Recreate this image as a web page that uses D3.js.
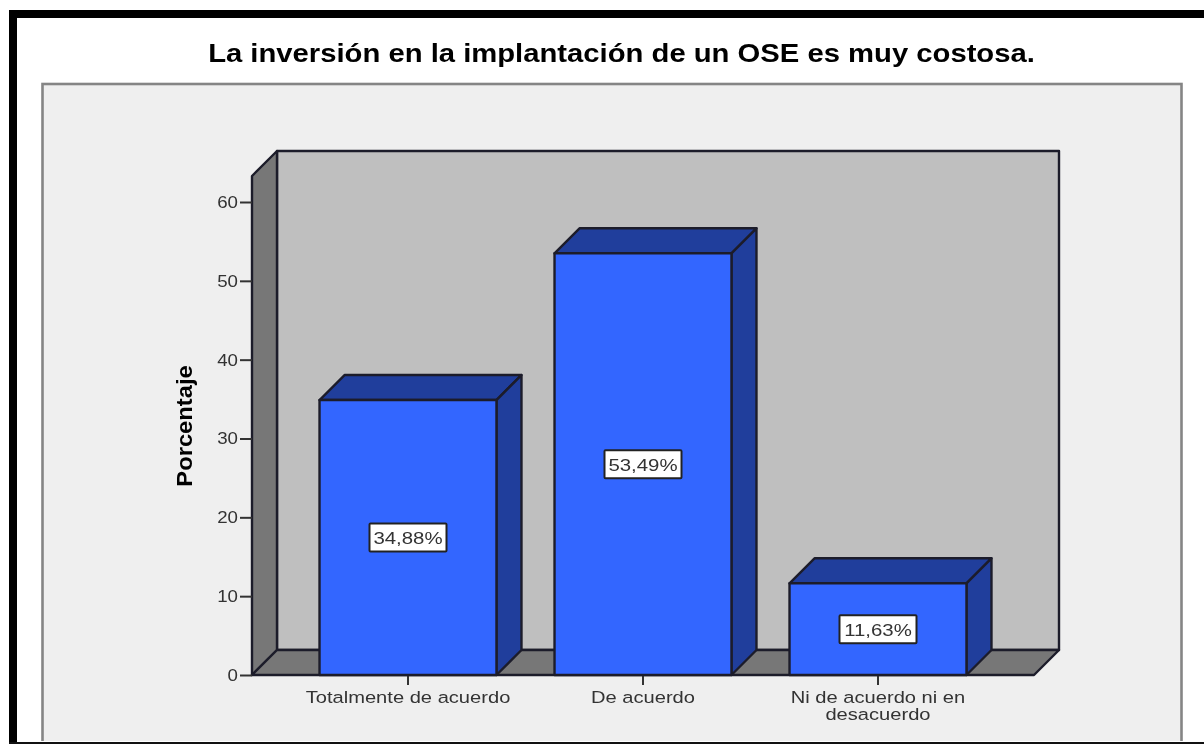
<!DOCTYPE html>
<html><head><meta charset="utf-8">
<script src="https://cdn.jsdelivr.net/npm/d3@7"></script>
<style>html,body{margin:0;padding:0;background:#fff}svg{display:block;filter:blur(.55px)}text{font-family:"Liberation Sans",Arial,sans-serif}</style>
</head><body><svg id="c" width="1204" height="744"></svg>
<script>
const categories=["Totalmente de acuerdo","De acuerdo","Ni de acuerdo ni en desacuerdo"];
const categoryLines=[["Totalmente de acuerdo"],["De acuerdo"],["Ni de acuerdo ni en","desacuerdo"]];
const values=[34.88,53.49,11.63];
const valueLabels=["34,88%","53,49%","11,63%"];
const yTicks=[0,10,20,30,40,50,60];
const titleText="La inversión en la implantación de un OSE es muy costosa.";
const yLabel="Porcentaje";

const svg=d3.select("#c");
const depth=25, x0=252, x1=1034, yBase=675;
const y=d3.scaleLinear().domain([0,60]).range([yBase,202]);
const x=d3.scaleBand().domain(categories).range([290.5,995.5]).paddingInner(.247).paddingOuter(.1235);
const yTop=y(63.3);
const ink="#1c1c2a";

// frame
svg.append("rect").attr("x",9).attr("y",10).attr("width",1195).attr("height",8).attr("fill","#000");
svg.append("rect").attr("x",9).attr("y",10).attr("width",8).attr("height",734).attr("fill","#000");
svg.append("rect").attr("x",42.5).attr("y",84).attr("width",1139).attr("height",670).attr("fill","#efefef").attr("stroke","#858585").attr("stroke-width",2.6);
svg.append("rect").attr("x",17).attr("y",741).attr("width",1187).attr("height",3).attr("fill","#fff");
svg.append("rect").attr("x",9).attr("y",742).attr("width",1195).attr("height",2).attr("fill","#111");

svg.append("text").attr("transform","translate(621.5,61.5) scale(1.17,1)").attr("text-anchor","middle").attr("font-size",25).attr("font-weight","bold").attr("fill","#000").text(titleText);

// 3D box: walls and floor
const poly=(pts,fill,sw=2.4)=>svg.append("polygon").attr("points",pts.map(p=>p.join(",")).join(" ")).attr("fill",fill).attr("stroke",ink).attr("stroke-width",sw).attr("stroke-linejoin","round");
poly([[x0+depth,yTop-depth],[x1+depth,yTop-depth],[x1+depth,yBase-depth],[x0+depth,yBase-depth]],"#bfbfbf");
poly([[x0,yTop],[x0+depth,yTop-depth],[x0+depth,yBase-depth],[x0,yBase]],"#777");
poly([[x0,yBase],[x0+depth,yBase-depth],[x1+depth,yBase-depth],[x1,yBase]],"#777");

// axes
const gy=svg.append("g").attr("transform",`translate(${x0},0)`).call(d3.axisLeft(y).tickValues(yTicks).tickSize(12).tickPadding(2));
gy.select(".domain").remove();
gy.selectAll("line").attr("stroke","#333").attr("stroke-width",2);
gy.selectAll("text").attr("font-size",17).attr("fill","#333").attr("transform","translate(-14,0) scale(1.1,1) translate(14,0)");
const gx=svg.append("g").attr("transform",`translate(0,${yBase})`).call(d3.axisBottom(x).tickSize(10).tickFormat(""));
gx.select(".domain").remove();
gx.selectAll("line").attr("stroke","#333").attr("stroke-width",2);
categories.forEach((c,i)=>{
  const cx=x(c)+x.bandwidth()/2;
  const t=svg.append("text").attr("text-anchor","middle").attr("font-size",16.5).attr("fill","#333").attr("transform",`translate(${cx},${yBase+28}) scale(1.22,1)`);
  categoryLines[i].forEach((l,j)=>t.append("tspan").attr("x",0).attr("dy",j?17:0).text(l));
});
svg.append("text").attr("transform","translate(192,426) rotate(-90) scale(1.08,1)").attr("text-anchor","middle").attr("font-size",22).attr("font-weight","bold").attr("fill","#000").text(yLabel);

// bars
categories.forEach((c,i)=>{
  const l=x(c), r=l+x.bandwidth(), t=y(values[i]);
  poly([[l,t],[l+depth,t-depth],[r+depth,t-depth],[r,t]],"#203e9c");
  poly([[r,t],[r+depth,t-depth],[r+depth,yBase-depth],[r,yBase]],"#203e9c");
  poly([[l,t],[r,t],[r,yBase],[l,yBase]],"#3366ff");
  const cy=(t+yBase)/2, cx=(l+r)/2;
  svg.append("rect").attr("x",cx-38.5).attr("y",cy-14).attr("width",77).attr("height",28).attr("fill","#fff").attr("stroke","#222").attr("stroke-width",2).attr("rx",1);
  svg.append("text").attr("transform",`translate(${cx},${cy+6.5}) scale(1.2,1)`).attr("text-anchor","middle").attr("font-size",17).attr("fill","#333").text(valueLabels[i]);
});
</script></body></html>
